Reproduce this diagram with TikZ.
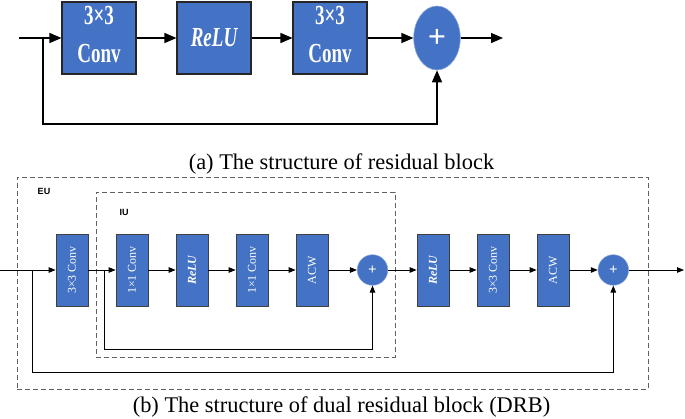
\documentclass[tikz,border=0pt]{standalone}
\usepackage{fontspec}
\setmainfont{Liberation Serif}
\setsansfont{Liberation Sans}
\usetikzlibrary{arrows.meta,shapes.geometric}
\definecolor{blk}{HTML}{4472C4}
\definecolor{dashc}{HTML}{606060}
\begin{document}
\begin{tikzpicture}[x=1pt,y=-1pt,
  bigbox/.style={draw=black!85, line width=1.1pt, fill=blk, minimum width=74pt, minimum height=72pt, inner sep=0pt, text=white, font=\fontsize{19}{20}\selectfont\bfseries},
  smallbox/.style={draw=black!75, line width=0.8pt, fill=blk, minimum width=32pt, minimum height=72pt, inner sep=0pt, text=white, font=\fontsize{12}{13}\selectfont},
  bigplus/.style={ellipse, fill=blk, draw=blk!60!white, line width=0.6pt, minimum width=46.6pt, minimum height=64pt, inner sep=0pt, text=white, font=\fontsize{32}{32}\selectfont\bfseries},
  smallplus/.style={circle, fill=blk, draw=blk!60!white, line width=0.5pt, minimum size=30.6pt, inner sep=0pt, text=white, font=\fontsize{15}{15}\selectfont\bfseries},
  toparrow/.style={line width=1.3pt, -{Triangle[length=12pt,width=10pt]}},
  botarrow/.style={line width=0.9pt, -{Triangle[length=7pt,width=5.5pt]}},
  dashbox/.style={draw=dashc, line width=1pt, dash pattern=on 5pt off 3pt, minimum width=#1},
  unitlabel/.style={font=\sffamily\bfseries\fontsize{9}{10}\selectfont},
  caption/.style={anchor=base, font=\fontsize{22.4}{24}\selectfont}
]
\useasboundingbox (0,0) rectangle (685,418);

% ---------- (a) residual block ----------
\node[bigbox] (a1) at (99,38) {\scalebox{1}[1.45]{\begin{tabular}{@{}c@{}}3×3\\[6pt]Conv\end{tabular}}};
\node[bigbox] (a2) at (214,38) {\raisebox{-2.5pt}{\scalebox{1}[1.45]{\itshape ReLU}}};
\node[bigbox] (a3) at (330,38) {\scalebox{1}[1.45]{\begin{tabular}{@{}c@{}}3×3\\[6pt]Conv\end{tabular}}};
\node[bigplus] (ap) at (437,38) {+};
\coordinate (ain) at (19,38);
\coordinate (asplit) at (43,38);
\coordinate (aout) at (503,38);
\coordinate (askip) at (0,124);
\draw[toparrow] (ain) -- (a1);
\draw[toparrow] (a1) -- (a2);
\draw[toparrow] (a2) -- (a3);
\draw[toparrow] (a3) -- (ap);
\draw[toparrow] (ap) -- (aout);
\draw[toparrow] (asplit) -- (asplit |- askip) -| (ap.south);
\node[caption] (capa) at (341.5,169.7) {(a) The structure of residual block};

% ---------- (b) dual residual block ----------
\node[dashbox=631pt, minimum height=212pt] (eu) at (332.5,283) {};
\node[dashbox=299pt, minimum height=165pt] (iu) at (245.5,274.5) {};
\node[unitlabel] (eulab) at (44,191.5) {EU};
\node[unitlabel] (iulab) at (124,212) {IU};

\node[smallbox] (b1) at (72,270) {\rotatebox{90}{3×3 Conv}};
\node[smallbox] (b2) at (132,270) {\rotatebox{90}{1×1 Conv}};
\node[smallbox] (b3) at (192,270) {\rotatebox{90}{\bfseries\itshape ReLU}};
\node[smallbox] (b4) at (252,270) {\rotatebox{90}{1×1 Conv}};
\node[smallbox] (b5) at (312,270) {\rotatebox{90}{ACW}};
\node[smallplus] (bp1) at (372.5,270) {+};
\node[smallbox] (b6) at (433,270) {\rotatebox{90}{\bfseries\itshape ReLU}};
\node[smallbox] (b7) at (493,270) {\rotatebox{90}{3×3 Conv}};
\node[smallbox] (b8) at (553,270) {\rotatebox{90}{ACW}};
\node[smallplus] (bp2) at (613.3,270) {+};

\coordinate (bin) at (0,270);
\coordinate (bout) at (684,270);
\coordinate (bsplit1) at (32,270);
\coordinate (bsplit2) at (104,270);
\coordinate (bskip1) at (0,372);
\coordinate (bskip2) at (0,349);

\draw[botarrow] (bin) -- (b1);
\draw[botarrow] (b1) -- (b2);
\draw[botarrow] (b2) -- (b3);
\draw[botarrow] (b3) -- (b4);
\draw[botarrow] (b4) -- (b5);
\draw[botarrow] (b5) -- (bp1);
\draw[botarrow] (bp1) -- (b6);
\draw[botarrow] (b6) -- (b7);
\draw[botarrow] (b7) -- (b8);
\draw[botarrow] (b8) -- (bp2);
\draw[botarrow] (bp2) -- (bout);
\draw[botarrow] (bsplit2) -- (bsplit2 |- bskip2) -| (bp1.south);
\draw[botarrow] (bsplit1) -- (bsplit1 |- bskip1) -| (bp2.south);

\node[caption] (capb) at (341.5,412) {(b) The structure of dual residual block (DRB)};
\end{tikzpicture}
\end{document}
